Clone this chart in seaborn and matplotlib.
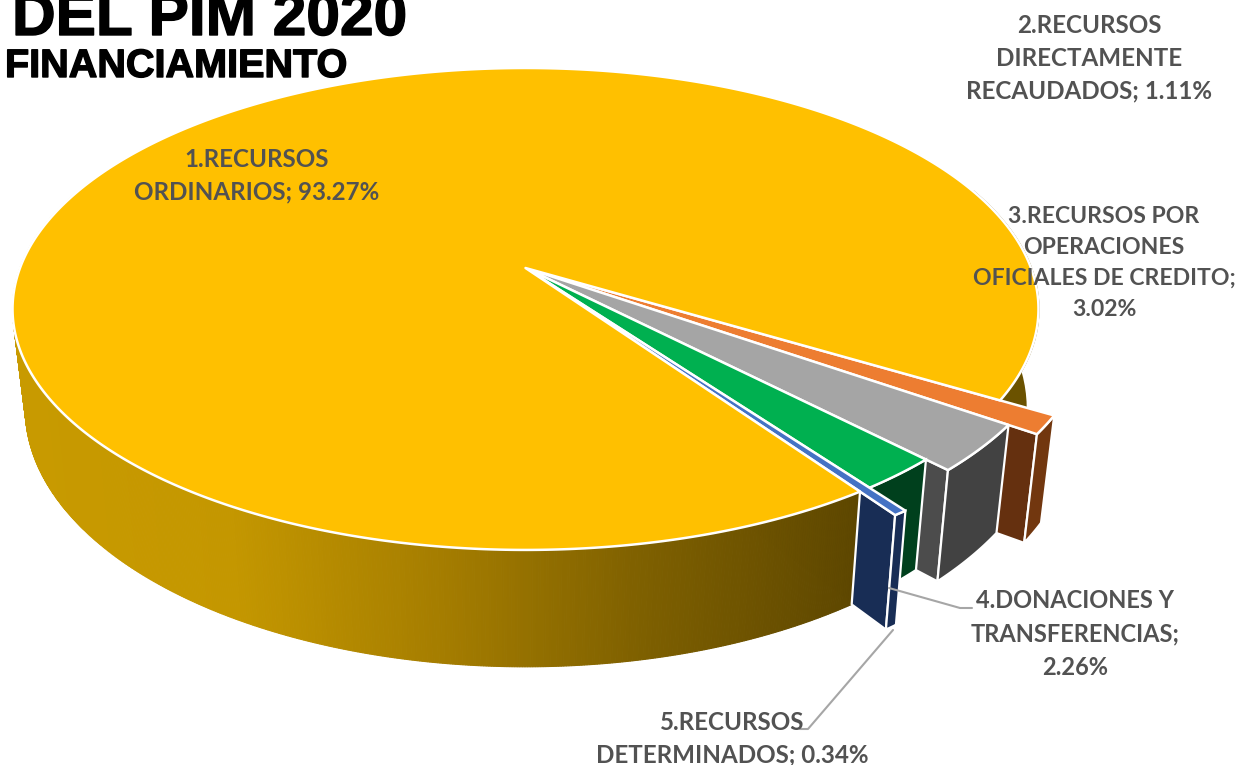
import numpy as np
import matplotlib
matplotlib.use("Agg")
import matplotlib.pyplot as plt
import matplotlib.patheffects as pe
import seaborn as sns

# Values
labels = ["1.RECURSOS\nORDINARIOS; 93.27%",
          "2.RECURSOS\nDIRECTAMENTE\nRECAUDADOS; 1.11%",
          "3.RECURSOS POR\nOPERACIONES\nOFICIALES DE CREDITO;\n3.02%",
          "4.DONACIONES Y\nTRANSFERENCIAS;\n2.26%",
          "5.RECURSOS\nDETERMINADOS; 0.34%"]
values = [93.27, 1.11, 3.02, 2.26, 0.34]
title_main = "DEL PIM 2020"
title_sub = "FINANCIAMIENTO"

# Colours of each slice: top, cut wall, outer rim
top_colors = ["#FFC000", "#ED7D31", "#A5A5A5", "#00B050", "#4472C4"]
wall_colors = ["#6b5200", "#65300f", "#4c4c4c", "#00401d", "#182d55"]
rim_colors = ["#6b5200", "#72370f", "#424242", "#00401d", "#182d55"]
explode = [1.0, 1.103, 1.048, 1.0, 1.089]

# Pie geometry in pixels of the output image
CX, CY = 525.5, 268
RX, RY = 505.5, 234
TILT = 0.17
DEPTH = 97
SHRINK = 0.975
START = 55.3

sns.set_theme(style="white")
plt.rcParams["font.family"] = ["Lato", "DejaVu Sans"]


def project(angle, r, low=False):
    """Perspective position of a disc point, on the top or the bottom face."""
    a = np.radians(angle)
    v = r * np.sin(a)
    d = 1 - TILT * v
    x = RX * r * np.cos(a) / d
    y = CY + RY * v / d
    if low:
        return CX + SHRINK * x, y + DEPTH / d
    return CX + x, y


def draw_top(ax, a0, a1, r, color):
    angles = np.linspace(a0, a1, max(int(a1 - a0) * 2, 8))
    xs, ys = project(angles, r)
    ax.fill(np.r_[CX, xs], np.r_[CY, ys], fc=color, ec="white", lw=1.8, joinstyle="round")


def draw_wall(ax, angle, r, color):
    x0, y0 = project(angle, 0)
    x1, y1 = project(angle, r)
    x2, y2 = project(angle, r, low=True)
    x3, y3 = project(angle, 0, low=True)
    ax.fill([x0, x1, x2, x3], [y0, y1, y2, y3], fc=color, ec="white", lw=1.6)


def draw_rim(ax, a0, a1, r, color, outline=True):
    angles = np.linspace(a0, a1, 30)
    xt, yt = project(angles, r)
    xb, yb = project(angles, r, low=True)
    ax.fill(np.r_[xt, xb[::-1]], np.r_[yt, yb[::-1]], fc=color,
            ec="white" if outline else color, lw=1.6)


def draw_gradient_rim(ax, a0, a1, ramp):
    """Outer side of the big slice, shaded from left to right."""
    angles = np.arange(a0, a1 + 0.25, 0.25)
    for a, b in zip(angles[:-1], angles[1:]):
        xt, yt = project(np.array([a, b]), 1.0)
        xb, yb = project(np.array([b, a]), 1.0, low=True)
        frac = np.clip((xt.mean() - 20) / (860 - 20), 0, 1)
        c = ramp[int(frac * (len(ramp) - 1))]
        ax.fill(np.r_[xt, xb], np.r_[yt, yb], fc=c, ec=c, lw=0.8)


fig = plt.figure(figsize=(12.39, 7.65), dpi=100)
ax = fig.add_axes([0, 0, 1, 1])
ax.set_xlim(0, 1239)
ax.set_ylim(765, 0)
ax.axis("off")

# Slice angles come from the values
sweeps = np.array(values) / sum(values) * 360
ends = START + np.cumsum(sweeps)
starts = ends - sweeps

ramp = sns.blend_palette(["#c89a00", "#c49700", "#a57d00", "#7d5f00", "#5e4700"], 512)

# Back part of the big slice, seen beside the orange one
draw_rim(ax, 340, ends[0], 1.0, rim_colors[0], outline=False)

# Small slices, back to front
for i in [1, 2, 3, 4]:
    if explode[i] > 1.0:
        draw_wall(ax, ends[i], explode[i], wall_colors[i])
    draw_rim(ax, starts[i], ends[i], explode[i], rim_colors[i])
    draw_top(ax, starts[i], ends[i], explode[i], top_colors[i])

# Front side of the big slice, then its top
draw_gradient_rim(ax, starts[0], 200, ramp)
xs, ys = project(np.array([starts[0]]), 1.0)
xb, yb = project(np.array([starts[0]]), 1.0, low=True)
ax.plot([xs[0], xb[0]], [ys[0], yb[0]], color="white", lw=1.6)
draw_top(ax, starts[0], ends[0], 1.0, top_colors[0])

# Leader lines
ax.plot([889, 960, 972], [588, 608, 608], color="#a6a6a6", lw=1.5)
ax.plot([893, 808, 800], [630, 729, 729], color="#a6a6a6", lw=1.5)

# Data labels
label_pos = [(257, 176), (1089, 58), (1104, 263), (1075, 634), (732, 739)]
label_sizes = [17.4, 17.4, 16.6, 17.0, 17.4]
label_gaps = [1.5, 1.5, 1.57, 1.53, 1.5]
for text, (x, y), size, gap in zip(labels, label_pos, label_sizes, label_gaps):
    ax.text(x, y, text, ha="center", va="center", fontsize=size, fontweight="bold",
            color="#525252", linespacing=gap)

# Titles, the upper one runs off the top of the picture
thick = [pe.withStroke(linewidth=1.0, foreground="black")]
ax.text(12, 35, title_main, fontsize=43.5, fontweight="bold", family="Liberation Sans",
        color="black", va="baseline", path_effects=thick)
ax.text(5, 77, title_sub, fontsize=28.5, fontweight="bold", family="Liberation Sans",
        color="black", va="baseline", path_effects=thick)

fig.savefig("out.png", dpi=100)
